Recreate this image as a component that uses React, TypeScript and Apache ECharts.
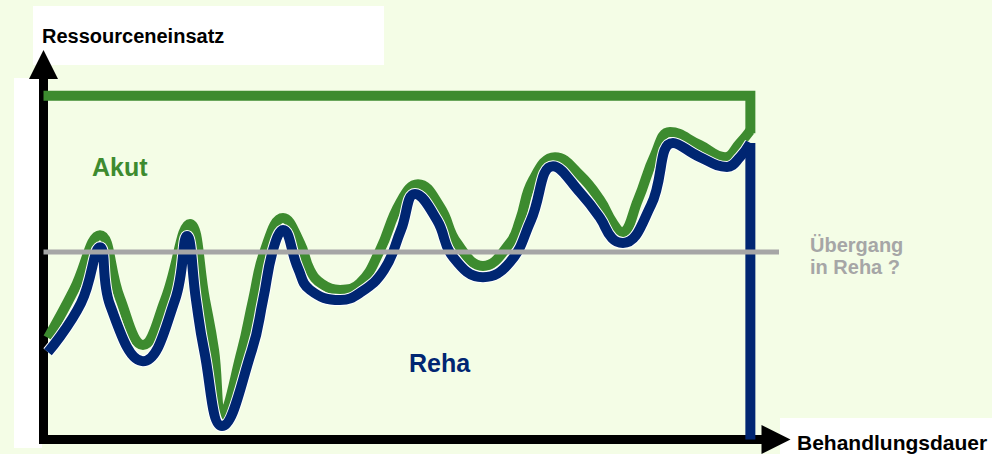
import React, { useEffect, useRef } from "react";
import * as echarts from "echarts";

// Behandlungsdauer (x, 0..100) vs. Ressourceneinsatz (y, 0..100)
const akutCurve: [number, number][] = [
  [0.61, 27.1], [4.16, 39.9], [7.71, 54.5], [10.44, 37.7], [13.58, 25.2], [16.59, 37.2],
  [20.0, 57.5], [22.05, 37.2], [23.28, 23.9], [24.37, 6.3], [27.1, 23.9], [28.6, 37.2],
  [30.23, 50.5], [32.7, 59.1], [35.02, 52.4], [36.38, 45.2], [38.0, 41.5], [40.48, 39.9],
  [43.21, 41.7], [45.94, 50.5], [48.67, 63.1], [51.13, 68.1], [54.14, 62.0], [56.45, 52.4],
  [60.0, 46.3], [63.69, 52.4], [65.05, 58.5], [66.83, 69.2], [69.83, 75.3], [73.24, 70.5],
  [75.97, 63.9], [77.75, 57.7], [78.98, 55.3], [81.16, 63.9], [83.48, 75.9], [85.53, 82.0],
  [89.62, 78.5], [93.04, 75.3], [95.09, 79.1], [96.45, 82.3],
];

const rehaCurve: [number, number][] = [
  [0.61, 23.3], [5.13, 36.4], [7.71, 51.3], [9.08, 35.9], [13.58, 20.9], [17.95, 37.2],
  [19.59, 54.3], [20.82, 37.2], [21.91, 23.9], [24.37, 3.6], [28.46, 23.9], [29.97, 37.2],
  [31.33, 50.5], [32.7, 55.9], [34.74, 45.7], [36.38, 39.9], [40.48, 37.2], [43.21, 39.1],
  [46.48, 45.2], [48.81, 55.9], [50.72, 65.5], [53.72, 58.5], [55.9, 48.7], [60.0, 43.3],
  [63.69, 47.3], [66.55, 58.5], [69.56, 72.9], [73.24, 65.9], [75.97, 59.1], [77.61, 53.7],
  [79.11, 52.4], [82.94, 62.5], [85.94, 79.1], [89.62, 75.3], [93.31, 72.7],
  [95.09, 75.3], [96.5, 79.1],
];

const akutFrame: [number, number][] = [[0, 91.7], [96.5, 91.7], [96.5, 81.7]];
const rehaBoundary: [number, number][] = [[96.5, 79.1], [96.5, 0]];
const transitionLine: [number, number][] = [[0, 50], [102.7, 50]];

const yAxisTitle = "Ressourceneinsatz";
const xAxisTitle = "Behandlungsdauer";
const akutLabel = "Akut";
const rehaLabel = "Reha";
const transitionLabel = ["Übergang", "in Reha ?"];

const GREEN = "#3d8b2f";
const NAVY = "#002672";
const GRAY = "#a6a6a6";
const FONT = "'Liberation Sans', Arial, sans-serif";

export default function App() {
  const ref = useRef<HTMLDivElement>(null);
  useEffect(() => {
    if (!ref.current) return;
    const chart = echarts.init(ref.current, undefined, { renderer: "svg" });
    const axisCommon = {
      type: "value" as const,
      min: 0,
      max: 100,
      axisLine: {
        show: true,
        symbol: ["none", "triangle"],
        symbolSize: [29, 29],
        lineStyle: { color: "#000", width: 9, cap: "square" },
      },
      axisTick: { show: false },
      axisLabel: { show: false },
      splitLine: { show: false },
    };
    chart.setOption({
      animation: false,
      backgroundColor: "#f4fde6",
      grid: { left: 43.5, right: 216, top: 64.5, bottom: 14.5 },
      xAxis: { ...axisCommon },
      yAxis: { ...axisCommon },
      graphic: [
        { type: "rect", z: -10, shape: { x: 33, y: 6, width: 351, height: 59 }, style: { fill: "#fff" } },
        { type: "rect", z: -10, shape: { x: 14, y: 78, width: 28, height: 370 }, style: { fill: "#fff" } },
        { type: "rect", z: -10, shape: { x: 780, y: 418, width: 212, height: 36 }, style: { fill: "#fff" } },
        {
          type: "text", x: 42, y: 36, z: 10,
          style: { text: yAxisTitle, fill: "#000", font: `bold 20px ${FONT}`, textVerticalAlign: "middle" },
        },
        {
          type: "text", x: 797, y: 442, z: 10,
          style: { text: xAxisTitle, fill: "#000", font: `bold 21px ${FONT}`, textVerticalAlign: "middle" },
        },
        {
          type: "text", x: 92, y: 166.5, z: 10,
          style: { text: akutLabel, fill: GREEN, font: `bold 25px ${FONT}`, textVerticalAlign: "middle" },
        },
        {
          type: "text", x: 409, y: 362.5, z: 10,
          style: { text: rehaLabel, fill: NAVY, font: `bold 25px ${FONT}`, textVerticalAlign: "middle" },
        },
        {
          type: "text", x: 810, y: 245, z: 10,
          style: { text: transitionLabel[0], fill: GRAY, font: `bold 20px ${FONT}`, textVerticalAlign: "middle" },
        },
        {
          type: "text", x: 810, y: 266.5, z: 10,
          style: { text: transitionLabel[1], fill: GRAY, font: `bold 20px ${FONT}`, textVerticalAlign: "middle" },
        },
      ],
      series: [
        {
          type: "line", data: akutCurve, smooth: 0.45, symbol: "none", clip: false,
          lineStyle: { color: GREEN, width: 10 },
        },
        {
          type: "line", data: rehaCurve, smooth: 0.45, symbol: "none", clip: false,
          lineStyle: { color: "#ffffff", width: 12 },
        },
        {
          type: "line", data: rehaCurve, smooth: 0.45, symbol: "none", clip: false,
          lineStyle: { color: NAVY, width: 10 },
        },
        {
          type: "line", data: rehaBoundary, symbol: "none", clip: false,
          lineStyle: { color: NAVY, width: 10 },
        },
        {
          type: "line", data: akutFrame, symbol: "none", clip: false,
          lineStyle: { color: GREEN, width: 10, join: "miter" },
        },
        {
          type: "line", data: transitionLine, symbol: "none", clip: false,
          lineStyle: { color: GRAY, width: 5 },
        },
      ],
    });
    return () => chart.dispose();
  }, []);
  return (
    <div
      ref={ref}
      style={{ position: "absolute", left: 0, top: 0, width: 992, height: 454 }}
    />
  );
}
